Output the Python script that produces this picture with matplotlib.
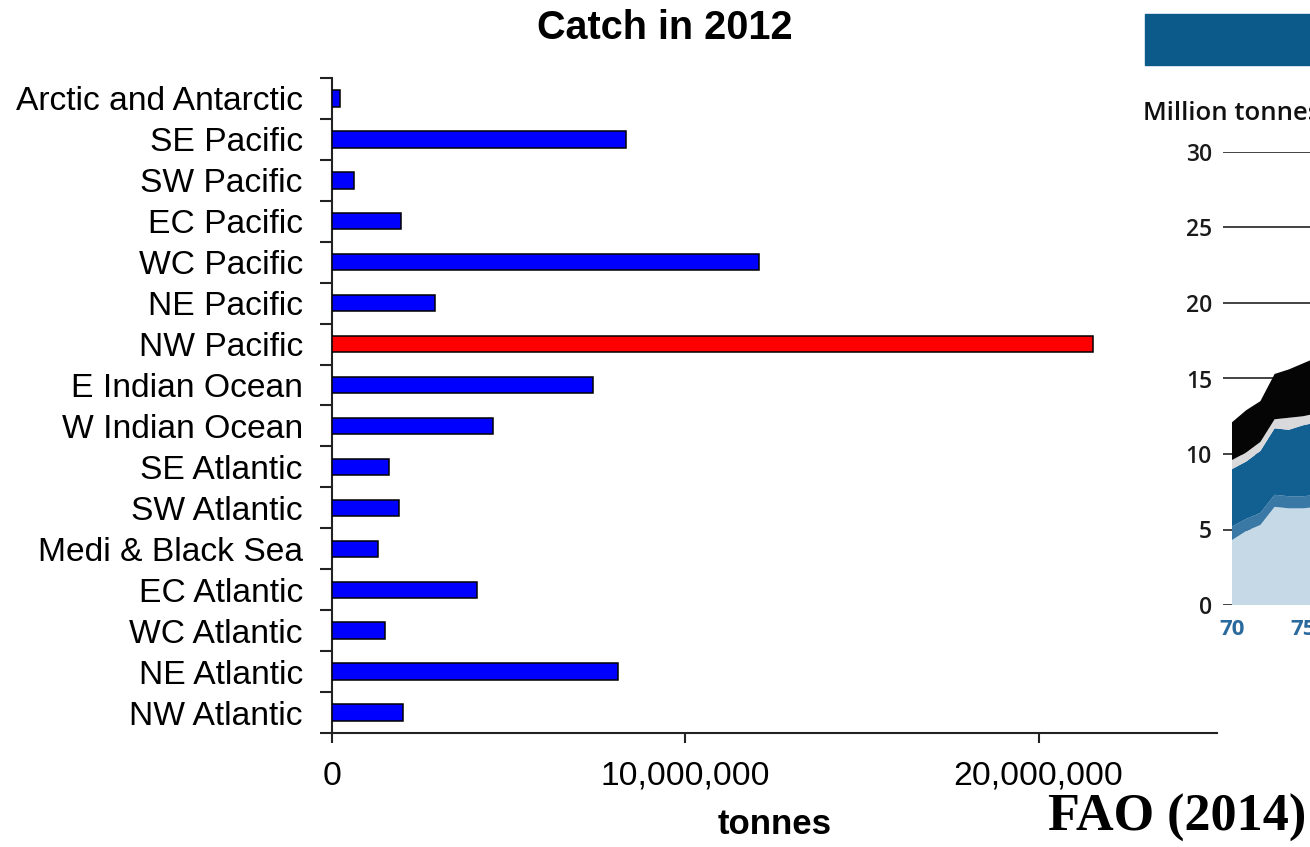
import matplotlib
matplotlib.use("Agg")
import matplotlib.pyplot as plt
from matplotlib.patches import Rectangle
from matplotlib.ticker import FuncFormatter
import numpy as np

plt.rcParams['font.family'] = ['Liberation Sans', 'DejaVu Sans']

# Marine capture by FAO fishing area, 2012 (tonnes), listed bottom to top
areas = ["NW Atlantic", "NE Atlantic", "WC Atlantic", "EC Atlantic",
         "Medi & Black Sea", "SW Atlantic", "SE Atlantic", "W Indian Ocean",
         "E Indian Ocean", "NW Pacific", "NE Pacific", "WC Pacific",
         "EC Pacific", "SW Pacific", "SE Pacific", "Arctic and Antarctic"]
catch_2012 = [2.0e6, 8.1e6, 1.5e6, 4.1e6,
              1.3e6, 1.9e6, 1.6e6, 4.55e6,
              7.4e6, 21.55e6, 2.92e6, 12.1e6,
              1.95e6, 0.62e6, 8.32e6, 0.23e6]
highlight = "NW Pacific"
x_ticks = [0, 10_000_000, 20_000_000]

# Small excerpt of the FAO capture-trend panel (million tonnes)
trend_years = [1970, 1971, 1972, 1973, 1974, 1975, 1976]
trend_light = [4.3, 4.9, 5.3, 6.5, 6.4, 6.4, 6.5]
trend_mid = [0.9, 0.8, 0.8, 0.8, 0.8, 0.8, 0.8]
trend_dark = [3.8, 3.8, 4.1, 4.4, 4.4, 4.7, 4.8]
trend_pale = [0.6, 0.6, 0.6, 0.6, 0.8, 0.6, 0.6]
trend_black = [2.5, 2.8, 2.7, 3.0, 3.2, 3.5, 3.7]
trend_yticks = [0, 5, 10, 15, 20, 25, 30]
trend_xticks = [1970, 1975]
trend_xlabels = ["70", "75"]

W, H = 1310, 847
fig = plt.figure(figsize=(W / 100, H / 100), dpi=100)

# ---- main bar chart ----
ax = fig.add_axes([332 / W, 1 - 733 / H, 885 / W, 655 / H])
ypos = np.arange(len(areas))
colors = ["#ff0000" if a == highlight else "#0000ff" for a in areas]
ax.barh(ypos, catch_2012, height=0.4, color=colors, edgecolor="black",
        linewidth=1.1, zorder=3)
ax.set_xlim(0, 25.05e6)
ax.set_ylim(-0.5, len(areas) - 0.5)

ax.spines['top'].set_visible(False)
ax.spines['right'].set_visible(False)
for s in ('left', 'bottom'):
    ax.spines[s].set_linewidth(1.5)
    ax.spines[s].set_color("#222222")

# category labels centred on bars, tick marks on the boundaries
ax.set_yticks(ypos)
ax.set_yticklabels(areas, fontsize=24.2)
ax.tick_params(axis='y', which='major', length=0, pad=21)
ax.set_yticks(np.arange(-0.5, len(areas)), minor=True)
ax.tick_params(axis='y', which='minor', length=9, width=1.5, color="#222222",
               direction='out')

ax.set_xticks(x_ticks)
ax.xaxis.set_major_formatter(FuncFormatter(lambda v, p: f"{int(v):,}"))
ax.tick_params(axis='x', length=7, width=1.5, color="#222222", labelsize=24.2,
               pad=13)
ax.set_xlabel("tonnes", fontsize=25, fontweight='bold', labelpad=12)

fig.text(665 / W, 1 - 28 / H, "Catch in 2012", fontsize=28.5,
         fontweight='bold', ha='center', va='center')
fig.text(1177 / W, 1 - 818 / H, "FAO (2014)", fontsize=37.5,
         fontweight='bold', family='Liberation Serif', ha='center',
         va='center')

# ---- FAO trend panel excerpt ----
fig.add_artist(Rectangle((1145 / W, 1 - 65 / H), 200 / W, 51 / H,
                         transform=fig.transFigure, color="#0c5a8a",
                         zorder=1))
fig.text(1143 / W, 1 - 113 / H, "Million tonnes", fontsize=18.5,
         fontweight='semibold', family=['Open Sans', 'DejaVu Sans'],
         color="#111111", ha='left', va='center')

ix = fig.add_axes([1223 / W, 1 - 605 / H, 180 / W, 453 / H])
px_per_year = 14.2
ix.set_xlim(1970 - 9 / px_per_year, 1970 + 171 / px_per_year)
ix.set_ylim(0, 30)
for s in ix.spines.values():
    s.set_visible(False)
for v in trend_yticks:
    ix.axhline(v, color="#111111", linewidth=1.1, zorder=1)
ix.stackplot(trend_years, trend_light, trend_mid, trend_dark, trend_pale,
             trend_black,
             colors=["#c6d9e6", "#3a78a6", "#125f92", "#d9d9dc", "#050505"],
             linewidth=0, zorder=2)
ix.set_yticks(trend_yticks)
ix.set_yticklabels([str(v) for v in trend_yticks],
                   family=['Open Sans', 'DejaVu Sans'], fontweight='semibold',
                   fontsize=16.5, color="#1a1a1a")
ix.tick_params(axis='y', length=0, pad=8)
ix.set_xticks(trend_xticks)
ix.set_xticklabels(trend_xlabels, family=['Open Sans', 'DejaVu Sans'],
                   fontweight='bold', fontsize=16, color="#2b6a9c")
ix.tick_params(axis='x', length=0, pad=10)
ix.patch.set_alpha(0)

fig.savefig("out.png", dpi=100)
